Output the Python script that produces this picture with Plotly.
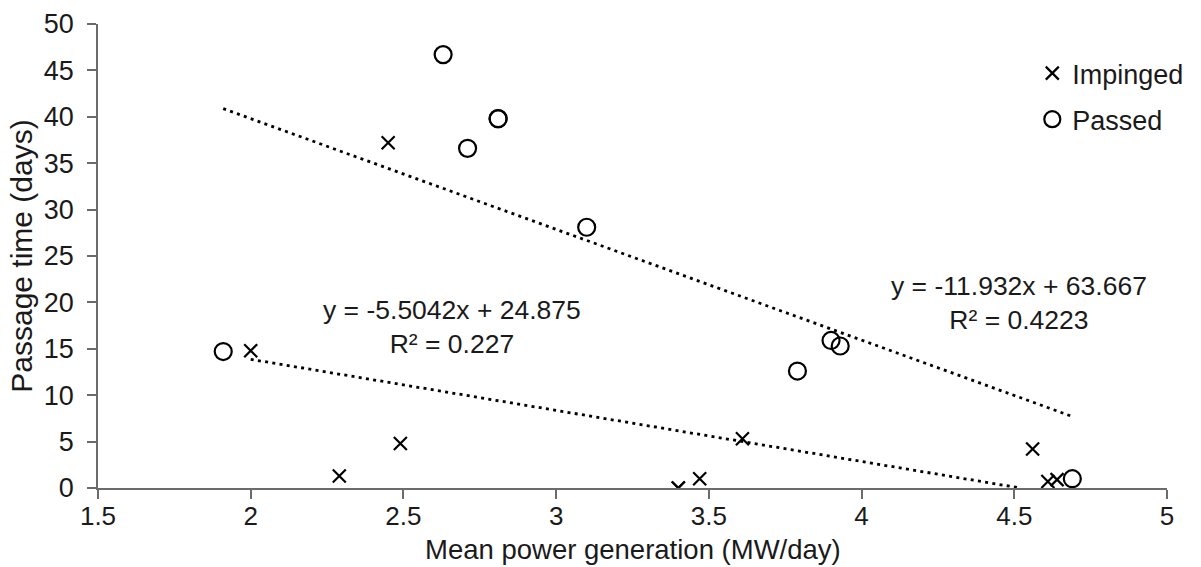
import numpy as np
import plotly.graph_objects as go

# Impinged fish: mean power generation (MW/day) vs passage time (days)
impinged_power = [2.00, 2.29, 2.45, 2.49, 3.40, 3.40, 3.47, 3.61, 4.56, 4.61, 4.64]
impinged_days = [14.8, 1.3, 37.2, 4.8, 0.0, 0.0, 1.0, 5.3, 4.2, 0.7, 0.9]

# Passed fish
passed_power = [1.91, 2.63, 2.71, 2.81, 2.81, 3.10, 3.79, 3.90, 3.93, 4.69]
passed_days = [14.7, 46.7, 36.6, 39.8, 39.8, 28.1, 12.6, 15.9, 15.3, 1.0]

# Linear trendline coefficients (slope, intercept, R²)
imp_slope, imp_int, imp_r2 = -5.5042, 24.875, 0.227
pas_slope, pas_int, pas_r2 = -11.932, 63.667, 0.4223

FONT = "Liberation Sans, Arial, sans-serif"
TEXT_COLOR = "#1a1a1a"
AXIS_COLOR = "#6b6b6b"
TREND_DASH = "3px,4.3px"

fig = go.Figure()

# Trendline for impinged, clipped at y = 0
x0 = min(impinged_power)
x1 = min(max(impinged_power), -imp_int / imp_slope)
tx = np.array([x0, x1])
fig.add_trace(go.Scatter(x=tx, y=imp_slope * tx + imp_int, mode="lines",
                         line=dict(color="black", width=2.8, dash=TREND_DASH),
                         showlegend=False, hoverinfo="skip"))

# Trendline for passed
tx2 = np.array([min(passed_power), max(passed_power)])
fig.add_trace(go.Scatter(x=tx2, y=pas_slope * tx2 + pas_int, mode="lines",
                         line=dict(color="black", width=2.8, dash=TREND_DASH),
                         showlegend=False, hoverinfo="skip"))

fig.add_trace(go.Scatter(x=impinged_power, y=impinged_days, mode="markers",
                         name="Impinged", legendgroup="imp",
                         marker=dict(symbol="x-thin-open", size=13, color="black",
                                     line=dict(color="black", width=2.2))))
fig.add_trace(go.Scatter(x=passed_power, y=passed_days, mode="markers",
                         name="Passed", legendgroup="pas",
                         marker=dict(symbol="circle-open", size=17, color="black",
                                     line=dict(color="black", width=2.2))))

fig.add_annotation(x=2.66, y=17.4, xref="x", yref="y",
                   text=f"y = {imp_slope}x + {imp_int}<br>R² = {imp_r2}",
                   showarrow=False, align="center",
                   font=dict(family=FONT, size=26.5, color=TEXT_COLOR))
fig.add_annotation(x=4.514, y=19.9, xref="x", yref="y",
                   text=f"y = {pas_slope}x + {pas_int}<br>R² = {pas_r2}",
                   showarrow=False, align="center",
                   font=dict(family=FONT, size=26.5, color=TEXT_COLOR))

# x-axis title placed just under the tick labels
fig.add_annotation(x=0.5, y=-0.132, xref="paper", yref="paper",
                   text="Mean power generation (MW/day)", showarrow=False,
                   xanchor="center", yanchor="middle",
                   font=dict(family=FONT, size=27.5, color=TEXT_COLOR))

fig.update_layout(
    width=1201, height=567,
    margin=dict(l=98, r=30, t=24, b=79),
    paper_bgcolor="white", plot_bgcolor="white",
    font=dict(family=FONT, size=27, color=TEXT_COLOR),
    legend=dict(x=0.874, y=0.946, xanchor="left", yanchor="top",
                font=dict(family=FONT, size=27, color=TEXT_COLOR),
                bgcolor="rgba(0,0,0,0)", traceorder="grouped",
                tracegroupgap=8, itemwidth=30),
    xaxis=dict(range=[1.5, 5], dtick=0.5, tick0=1.5, showgrid=False, zeroline=False,
               showline=True, linecolor=AXIS_COLOR, linewidth=1.5,
               ticks="outside", ticklen=9, tickcolor=AXIS_COLOR, tickwidth=1.5,
               tickfont=dict(size=26), ticklabelstandoff=-5, automargin=False),
    yaxis=dict(range=[0, 50], dtick=5, showgrid=False, zeroline=False,
               showline=True, linecolor=AXIS_COLOR, linewidth=1.5,
               ticks="outside", ticklen=9, tickcolor=AXIS_COLOR, tickwidth=1.5,
               tickfont=dict(size=27), ticklabelstandoff=8, automargin=False,
               title=dict(text="Passage time (days)", standoff=2,
                          font=dict(size=30))),
)

fig.write_html("out.html")
